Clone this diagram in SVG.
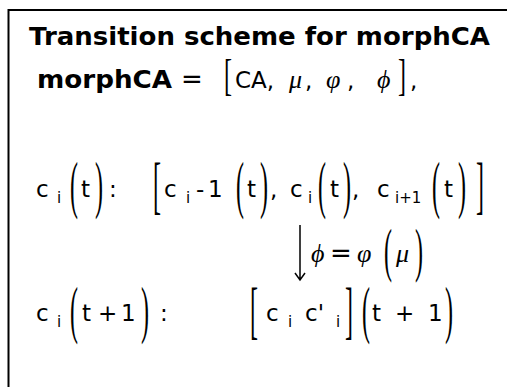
<svg xmlns="http://www.w3.org/2000/svg" width="507" height="387" viewBox="0 0 507 387">
<style>
.t{font-family:"DejaVu Sans",Verdana,sans-serif;font-size:23px;fill:#000}
.b{font-family:"DejaVu Sans",Verdana,sans-serif;font-weight:bold;font-size:24px;fill:#000}
.s{font-family:"DejaVu Sans",Verdana,sans-serif;font-size:15px;fill:#000}
.g{font-family:"Liberation Serif","Times New Roman",serif;font-style:italic;font-size:26px;fill:#000}
.d{font-family:"Liberation Serif","Times New Roman",serif;font-size:40px;fill:#000;text-anchor:middle}
.eq{font-family:"DejaVu Sans",sans-serif;font-size:26px;fill:#000}
</style>
<rect width="507" height="387" fill="#fff"/>
<path d="M8.5,400 V10 H520" fill="none" stroke="#000" stroke-width="2"/>
<g id="title"><text class="b" x="29" y="45" textLength="461" lengthAdjust="spacingAndGlyphs">Transition scheme for morphCA</text></g>
<g id="def">
<text class="b" x="37" y="88" textLength="135" lengthAdjust="spacingAndGlyphs">morphCA</text>
<text class="eq" x="181" y="88">=</text>
<text class="d" transform="translate(228,89.5) scale(0.6,1.1)">[</text>
<text class="t" x="235" y="88">CA,</text>
<text class="g" x="289" y="88">μ</text><text class="t" x="305" y="88">,</text>
<text class="g" x="326" y="88">φ</text><text class="t" x="347" y="88">,</text>
<text class="g" x="377" y="88">ϕ</text>
<text class="d" transform="translate(402,89.5) scale(0.6,1.1)">]</text>
<text class="t" x="410" y="88">,</text>
</g>
<g id="line-t">
<text class="t" x="36" y="197">c</text><text class="s" x="57" y="203">i</text>
<text class="d" transform="translate(74,206) scale(0.6,1.6)">(</text>
<text class="t" x="81" y="197">t</text>
<text class="d" transform="translate(99,206) scale(0.6,1.6)">)</text>
<text class="t" x="109" y="197">:</text>
<text class="d" transform="translate(157,206) scale(0.6,1.6)">[</text>
<text class="t" x="164" y="197">c</text><text class="s" x="186" y="203">i</text>
<text class="t" x="196" y="197">-</text><text class="t" x="208" y="197">1</text>
<text class="d" transform="translate(240,206) scale(0.6,1.6)">(</text>
<text class="t" x="247" y="197">t</text>
<text class="d" transform="translate(264,206) scale(0.6,1.6)">)</text>
<text class="t" x="270" y="197">,</text>
<text class="t" x="290" y="197">c</text><text class="s" x="308" y="203">i</text>
<text class="d" transform="translate(322,206) scale(0.6,1.6)">(</text>
<text class="t" x="330" y="197">t</text>
<text class="d" transform="translate(347,206) scale(0.6,1.6)">)</text>
<text class="t" x="352" y="197">,</text>
<text class="t" x="377" y="197">c</text><text class="s" x="395" y="203">i+1</text>
<text class="d" transform="translate(436,206) scale(0.6,1.6)">(</text>
<text class="t" x="444" y="197">t</text>
<text class="d" transform="translate(462,206) scale(0.6,1.6)">)</text>
<text class="d" transform="translate(480,206) scale(0.6,1.6)">]</text>
</g>
<g id="connectors">
<path d="M300,225 V280 M295,273 L300,280 L305,273" fill="none" stroke="#000" stroke-width="1.5"/>
</g>
<g id="rule">
<text class="g" x="311" y="262">ϕ</text>
<text class="eq" x="330" y="262">=</text>
<text class="g" x="357" y="262">φ</text>
<text class="d" transform="translate(388,270) scale(0.6,1.47)">(</text>
<text class="g" x="396" y="262">μ</text>
<text class="d" transform="translate(419,270) scale(0.6,1.47)">)</text>
</g>
<g id="line-t1">
<text class="t" x="36" y="321">c</text><text class="s" x="57" y="327">i</text>
<text class="d" transform="translate(74,331) scale(0.6,1.6)">(</text>
<text class="t" x="82" y="321">t</text><text class="t" x="98" y="321">+</text><text class="t" x="121" y="321">1</text>
<text class="d" transform="translate(145,331) scale(0.6,1.6)">)</text>
<text class="t" x="160" y="321">:</text>
<text class="d" transform="translate(254,331) scale(0.6,1.6)">[</text>
<text class="t" x="266" y="321">c</text><text class="s" x="288" y="327">i</text>
<text class="t" x="305" y="321">c'</text><text class="s" x="336" y="327">i</text>
<text class="d" transform="translate(349,331) scale(0.6,1.6)">]</text>
<text class="d" transform="translate(366,331) scale(0.6,1.6)">(</text>
<text class="t" x="372" y="321">t</text><text class="t" x="395" y="321">+</text><text class="t" x="428" y="321">1</text>
<text class="d" transform="translate(449,331) scale(0.6,1.6)">)</text>
</g>
</svg>
